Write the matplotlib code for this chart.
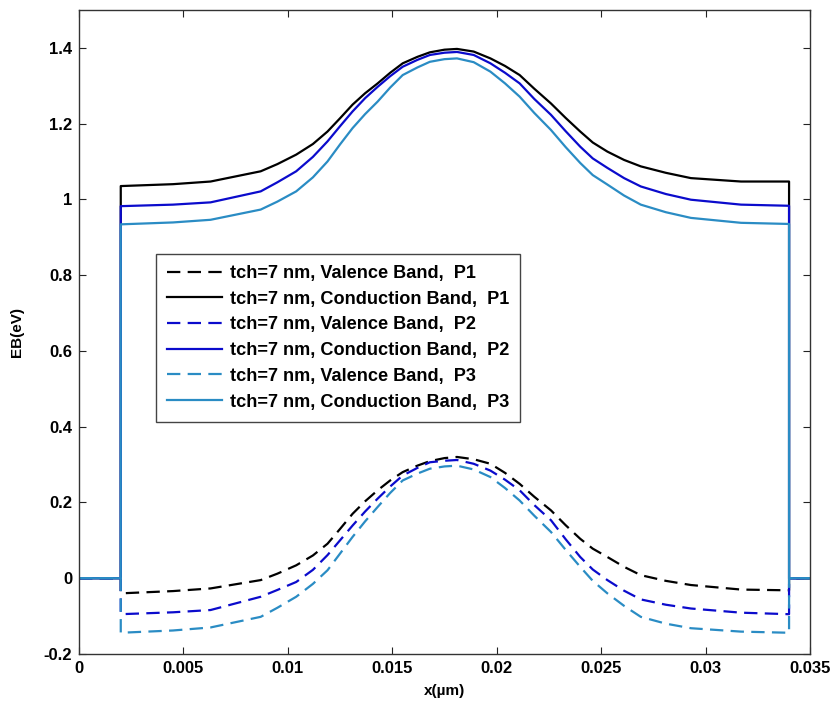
import numpy as np
import matplotlib
matplotlib.use('Agg')
import matplotlib.pyplot as plt

plt.rcParams['font.family'] = ['Liberation Sans', 'DejaVu Sans']
plt.rcParams['font.weight'] = 'bold'

# Positions along the channel (um) where the band edges were read
X_DEV = [0.002, 0.0045, 0.0063, 0.0087,
         0.0095, 0.0104, 0.0112, 0.0119, 0.0125, 0.0131, 0.0137, 0.0143, 0.0149, 0.0155,
         0.0162, 0.0168, 0.0175, 0.0181, 0.0189, 0.0197, 0.0204,
         0.0211, 0.0218, 0.0226, 0.0233, 0.0240, 0.0246, 0.0253, 0.0261, 0.0269, 0.0281, 0.0293,
         0.0317, 0.034]
X_START = 0.0
X_END = 0.035

# Conduction band (eV)
CB_P1 = [1.035, 1.040, 1.047, 1.074,
         1.093, 1.118, 1.146, 1.179, 1.214, 1.250, 1.280, 1.306, 1.334, 1.359,
         1.376, 1.388, 1.395, 1.397, 1.390, 1.372, 1.352,
         1.328, 1.292, 1.253, 1.215, 1.179, 1.150, 1.126, 1.104, 1.087, 1.070, 1.056,
         1.047, 1.047]
CB_P2 = [0.982, 0.986, 0.992, 1.021,
         1.045, 1.074, 1.112, 1.153, 1.193, 1.232, 1.267, 1.297, 1.325, 1.350,
         1.368, 1.381, 1.387, 1.389, 1.381, 1.359, 1.334,
         1.306, 1.265, 1.223, 1.180, 1.139, 1.108, 1.083, 1.056, 1.034, 1.014, 0.999,
         0.986, 0.983]
CB_P3 = [0.934, 0.939, 0.946, 0.973,
         0.994, 1.021, 1.058, 1.100, 1.145, 1.188, 1.225, 1.258, 1.295, 1.328,
         1.348, 1.363, 1.370, 1.372, 1.362, 1.337, 1.306,
         1.271, 1.228, 1.183, 1.138, 1.096, 1.064, 1.039, 1.010, 0.986, 0.966, 0.951,
         0.938, 0.935]

# Valence band (eV)
VB_P1 = [-0.040, -0.034, -0.027, -0.005,
         0.012, 0.034, 0.060, 0.091, 0.130, 0.170, 0.203, 0.232, 0.258, 0.280,
         0.297, 0.309, 0.317, 0.320, 0.314, 0.302, 0.278,
         0.249, 0.215, 0.179, 0.140, 0.104, 0.078, 0.056, 0.030, 0.008, -0.007, -0.018,
         -0.030, -0.032]
VB_P2 = [-0.095, -0.090, -0.084, -0.049,
         -0.031, -0.010, 0.022, 0.061, 0.100, 0.139, 0.176, 0.210, 0.242, 0.271,
         0.291, 0.306, 0.310, 0.312, 0.302, 0.284, 0.260,
         0.232, 0.193, 0.153, 0.103, 0.056, 0.023, -0.005, -0.033, -0.056, -0.070, -0.080,
         -0.091, -0.095]
VB_P3 = [-0.144, -0.138, -0.130, -0.102,
         -0.078, -0.049, -0.015, 0.021, 0.065, 0.109, 0.150, 0.188, 0.225, 0.258,
         0.276, 0.289, 0.295, 0.297, 0.287, 0.267, 0.238,
         0.205, 0.165, 0.122, 0.075, 0.030, -0.007, -0.040, -0.073, -0.102, -0.120, -0.132,
         -0.141, -0.144]

LABELS = ['tch=7 nm, Valence Band,  P1', 'tch=7 nm, Conduction Band,  P1',
          'tch=7 nm, Valence Band,  P2', 'tch=7 nm, Conduction Band,  P2',
          'tch=7 nm, Valence Band,  P3', 'tch=7 nm, Conduction Band,  P3']

X_TICKS = [0, 0.005, 0.01, 0.015, 0.02, 0.025, 0.03, 0.035]
X_TICKLABELS = ['0', '0.005', '0.01', '0.015', '0.02', '0.025', '0.03', '0.035']
Y_TICKS = [-0.2, 0, 0.2, 0.4, 0.6, 0.8, 1.0, 1.2, 1.4]
Y_TICKLABELS = ['-0.2', '0', '0.2', '0.4', '0.6', '0.8', '1', '1.2', '1.4']

BLACK = '#000000'
BLUE = '#0b0bcc'
LBLUE = '#2a8cc4'


def full_profile(vals):
    # zero outside the device, step at each contact
    xs = [X_START, X_DEV[0]] + list(X_DEV) + [X_DEV[-1], X_END]
    ys = [0, 0] + list(vals) + [0, 0]
    return xs, ys


fig = plt.figure(figsize=(8.35, 7.07), dpi=100)
ax = fig.add_axes([0.0946, 0.075, 0.8754, 0.911])

series = [(VB_P1, BLACK, '--'), (CB_P1, BLACK, '-'),
          (VB_P2, BLUE, '--'), (CB_P2, BLUE, '-'),
          (VB_P3, LBLUE, '--'), (CB_P3, LBLUE, '-')]
for (vals, col, ls), lab in zip(series, LABELS):
    xs, ys = full_profile(vals)
    if ls == '--':
        ax.plot(xs, ys, color=col, ls=ls, lw=1.6, dashes=(6, 3.3), label=lab)
    else:
        ax.plot(xs, ys, color=col, ls=ls, lw=1.6, label=lab)

ax.set_xlim(0, 0.035)
ax.set_ylim(-0.2, 1.5)
ax.set_xticks(X_TICKS)
ax.set_xticklabels(X_TICKLABELS)
ax.set_yticks(Y_TICKS)
ax.set_yticklabels(Y_TICKLABELS)
ax.tick_params(direction='in', top=True, right=True, length=5, width=0.8,
               labelsize=12, colors='#222222', labelcolor='black', pad=5)
for s in ax.spines.values():
    s.set_color('#333333')
    s.set_linewidth(1.0)

ax.set_xlabel('x(\u00b5m)', fontsize=11, fontweight='bold', labelpad=6)
ax.set_ylabel('EB(eV)', fontsize=11, fontweight='bold', labelpad=14)

leg = ax.legend(loc='upper left', bbox_to_anchor=(156 / 835, 1 - 254 / 707),
                bbox_transform=fig.transFigure, borderaxespad=0,
                fontsize=13.1, handlelength=3.05, handletextpad=0.4,
                labelspacing=0.48, fancybox=False, framealpha=1,
                borderpad=0.6)
leg.get_frame().set_edgecolor('#444444')
leg.get_frame().set_linewidth(1.0)
for t in leg.get_texts():
    t.set_fontweight('bold')

fig.savefig('out.png', dpi=100)
